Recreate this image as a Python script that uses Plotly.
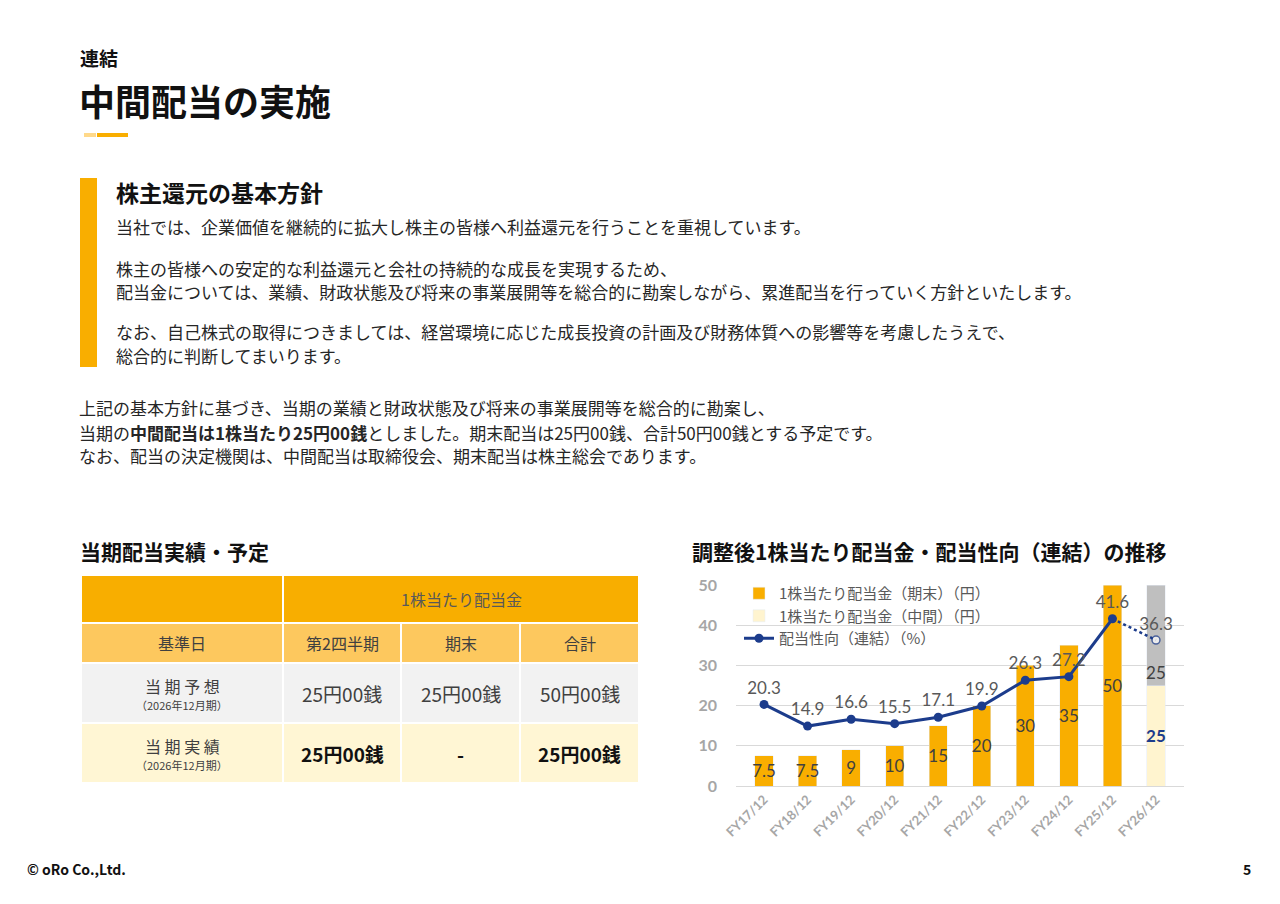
import plotly.graph_objects as go

# chart data
years = ["FY17/12", "FY18/12", "FY19/12", "FY20/12", "FY21/12",
         "FY22/12", "FY23/12", "FY24/12", "FY25/12", "FY26/12"]
dps_final = [7.5, 7.5, 9, 10, 15, 20, 30, 35, 50, None]
dps_interim = [None, None, None, None, None, None, None, None, None, 25]
dps_final_plan = [None, None, None, None, None, None, None, None, None, 25]
payout = [20.3, 14.9, 16.6, 15.5, 17.1, 19.9, 26.3, 27.2, 41.6, None]
payout_plan = [None, None, None, None, None, None, None, None, 41.6, 36.3]

# table data
table_top = "1株当たり配当金"
table_head = ["基準日", "第2四半期", "期末", "合計"]
row_labels = ["当 期 予 想", "当 期 実 績"]
row_sub = "（2026年12月期）"
row_forecast = ["25円00銭", "25円00銭", "50円00銭"]
row_actual = ["25円00銭", "-", "25円00銭"]

ORANGE = "#F9AE00"
PALE = "#FFF4CF"
GRAY = "#BFBFBF"
NAVY = "#1C3C8C"
W, H = 1280, 904
OFF = 8  # the page body margin pushes the figure 8px right and down
JP = "Noto Sans CJK JP"
NUM = "Lato"


def px(x):
    return (x - OFF) / W


def py(y):
    return 1 - (y - OFF) / H


fig = go.Figure()

fig.add_trace(go.Bar(
    x=years, y=dps_interim, name="1株当たり配当金（中間）（円）",
    marker_color=PALE, width=0.42, legendrank=2,
    text=[f"<b>{v:g}</b>" if v else "" for v in dps_interim],
    textposition="inside", insidetextanchor="middle", constraintext="none",
    textangle=0, textfont=dict(size=17, color=NAVY, family=NUM), hoverinfo="skip"))
fig.add_trace(go.Bar(
    x=years, y=dps_final, name="1株当たり配当金（期末）（円）",
    marker_color=ORANGE, width=0.42, legendrank=1,
    text=[f"{v:g}" if v else "" for v in dps_final],
    textposition="inside", insidetextanchor="middle", constraintext="none",
    textangle=0, textfont=dict(size=17, color="#404040", family=NUM), hoverinfo="skip"))
fig.add_trace(go.Bar(
    x=years, y=dps_final_plan, showlegend=False,
    marker_color=GRAY, width=0.42,
    text=[f"{v:g}" if v else "" for v in dps_final_plan],
    textposition="inside", insidetextanchor="start", constraintext="none",
    textangle=0, textfont=dict(size=17, color="#404040", family=NUM), hoverinfo="skip"))

fig.add_trace(go.Scatter(
    x=years, y=payout_plan, mode="lines+markers+text", showlegend=False,
    line=dict(color=NAVY, width=2.5, dash="dot"),
    marker=dict(size=[0] * 9 + [8], color="white",
                line=dict(color=NAVY, width=1.5)),
    text=["" if i < 9 or v is None else f"{v:g}" for i, v in enumerate(payout_plan)],
    textposition="top center", cliponaxis=False,
    textfont=dict(size=17, color="#595959", family=NUM), hoverinfo="skip"))
fig.add_trace(go.Scatter(
    x=years, y=payout, mode="lines+markers+text", name="配当性向（連結）（%）",
    legendrank=3, line=dict(color=NAVY, width=3),
    marker=dict(size=9, color=NAVY),
    text=[f"{v:g}" if v is not None else "" for v in payout],
    textposition="top center", cliponaxis=False,
    textfont=dict(size=17, color="#595959", family=NUM), hoverinfo="skip"))

fig.update_layout(
    width=W, height=H, margin=dict(l=0, r=0, t=0, b=0, autoexpand=False),
    paper_bgcolor="white", plot_bgcolor="white",
    font=dict(family=JP, color="#262626"),
    barmode="stack", showlegend=True,
    legend=dict(x=px(739), y=py(577), xanchor="left", yanchor="top",
                bgcolor="rgba(0,0,0,0)", font=dict(size=15, color="#595959"),
                traceorder="normal", itemwidth=30, tracegroupgap=0),
    xaxis=dict(domain=[px(736), px(1184)], tickangle=-45, automargin=False,
               tickfont=dict(size=13, color="#A6A6A6", family=NUM, weight="bold"),
               showline=True, linecolor="#D9D9D9", showgrid=False, ticks=""),
    yaxis=dict(domain=[py(786), py(585)], range=[0, 50], dtick=10, automargin=False,
               tickfont=dict(size=16, color="#A6A6A6", family=NUM, weight="bold"),
               gridcolor="#D9D9D9", zeroline=False, ticklabelstandoff=18),
    xaxis2=dict(domain=[px(81), px(639)], range=[0, 558], visible=False,
                anchor="y2", automargin=False),
    yaxis2=dict(domain=[py(783), py(575)], range=[208, 0],
                visible=False, anchor="x2", automargin=False),
)

# table drawn on hidden axes
col_edges = [0, 202, 320, 439, 558]
row_edges = [0, 48, 88, 148, 208]
fills = ["#F8AE00", "#FDC85E", "#F2F2F2", "#FFF6D4"]


def cell(x0, x1, y0, y1, color):
    fig.add_shape(type="rect", xref="x2", yref="y2", x0=x0, x1=x1, y0=y0, y1=y1,
                  fillcolor=color, line=dict(color="white", width=2), layer="below")


def ctext(x, y, s, size, color="#404040"):
    fig.add_annotation(x=x, y=y, xref="x2", yref="y2", text=s, showarrow=False,
                       font=dict(size=size, color=color), xanchor="center",
                       yanchor="middle", borderpad=0)


cell(col_edges[0], col_edges[1], row_edges[0], row_edges[1], fills[0])
cell(col_edges[1], col_edges[4], row_edges[0], row_edges[1], fills[0])
ctext((col_edges[1] + col_edges[4]) / 2, (row_edges[0] + row_edges[1]) / 2,
      table_top, 16, "#595959")
for i, h in enumerate(table_head):
    cell(col_edges[i], col_edges[i + 1], row_edges[1], row_edges[2], fills[1])
    ctext((col_edges[i] + col_edges[i + 1]) / 2, (row_edges[1] + row_edges[2]) / 2,
          h, 16)
for r, (lab, vals) in enumerate(zip(row_labels, [row_forecast, row_actual])):
    y0, y1 = row_edges[2 + r], row_edges[3 + r]
    cell(col_edges[0], col_edges[1], y0, y1, fills[2 + r])
    ctext(col_edges[1] / 2, (y0 + y1) / 2 - 7, lab, 16)
    ctext(col_edges[1] / 2, (y0 + y1) / 2 + 12, row_sub, 11)
    for c, v in enumerate(vals):
        cell(col_edges[c + 1], col_edges[c + 2], y0, y1, fills[2 + r])
        s = f"<b>{v}</b>" if r == 1 else v
        ctext((col_edges[c + 1] + col_edges[c + 2]) / 2, (y0 + y1) / 2, s, 19,
              "#111111" if r == 1 else "#404040")


def txt(x, y, s, size, color="#262626", xanchor="left"):
    fig.add_annotation(x=px(x), y=py(y), xref="paper", yref="paper", text=s,
                       showarrow=False, xanchor=xanchor, yanchor="middle",
                       font=dict(size=size, color=color), borderpad=0)


def rect(x0, y0, x1, y1, color):
    fig.add_shape(type="rect", xref="paper", yref="paper", x0=px(x0), x1=px(x1),
                  y0=py(y0), y1=py(y1), fillcolor=color, line_width=0)


# header
txt(79, 57, "<b>連結</b>", 19, "#111111")
txt(78, 100, "<b>中間配当の実施</b>", 36, "#111111")
rect(84, 133, 96, 137, "#FFD98A")
rect(97, 133, 128, 137, ORANGE)

# policy block
rect(80, 178, 97, 367, ORANGE)
txt(115, 192, "<b>株主還元の基本方針</b>", 23, "#111111")
txt(115, 226, "当社では、企業価値を継続的に拡大し株主の皆様へ利益還元を行うことを重視しています。", 17)
txt(115, 269, "株主の皆様への安定的な利益還元と会社の持続的な成長を実現するため、", 17)
txt(115, 291, "配当金については、業績、財政状態及び将来の事業展開等を総合的に勘案しながら、累進配当を行っていく方針といたします。", 17)
txt(115, 331, "なお、自己株式の取得につきましては、経営環境に応じた成長投資の計画及び財務体質への影響等を考慮したうえで、", 17)
txt(115, 355, "総合的に判断してまいります。", 17)

txt(78, 407, "上記の基本方針に基づき、当期の業績と財政状態及び将来の事業展開等を総合的に勘案し、", 17)
txt(78, 432, "当期の<b>中間配当は1株当たり25円00銭</b>としました。期末配当は25円00銭、合計50円00銭とする予定です。", 17)
txt(78, 455, "なお、配当の決定機関は、中間配当は取締役会、期末配当は株主総会であります。", 17)

# section titles
txt(79, 551, "<b>当期配当実績・予定</b>", 21, "#111111")
txt(691, 551, "<b>調整後1株当たり配当金・配当性向（連結）の推移</b>", 21, "#111111")

# footer
txt(26, 869, "<b>© oRo Co.,Ltd.</b>", 14, "#111111")
txt(1252, 869, "<b>5</b>", 14, "#111111", xanchor="right")

fig.write_html("out.html")
